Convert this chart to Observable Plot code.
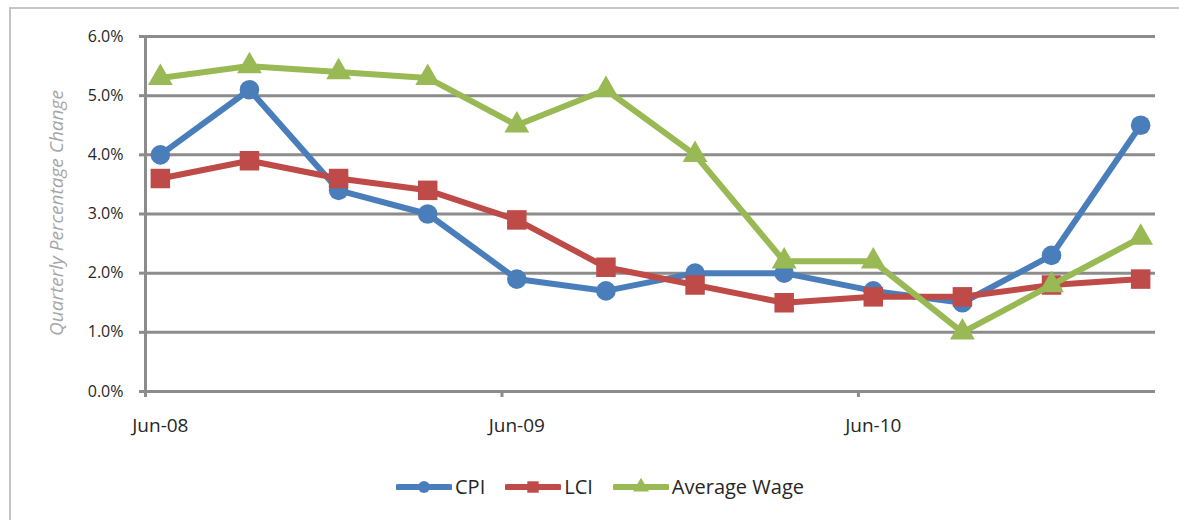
<!DOCTYPE html>
<html>
<head>
<meta charset="utf-8">
<script src="https://cdn.jsdelivr.net/npm/d3@7"></script>
<script src="https://cdn.jsdelivr.net/npm/@observablehq/plot@0.6"></script>
<style>
  html, body { margin: 0; padding: 0; background: #fff; overflow: hidden; }
  #wrap { position: relative; width: 1179px; height: 520px; font-family: "Open Sans", Lato, sans-serif; }
  #frame { position: absolute; left: 9px; top: 7px; width: 1200px; height: 600px;
           border-top: 2px solid #c4c4c4; border-left: 2px solid #c4c4c4; }
  #chart { position: absolute; left: 0; top: 0; }
  #chart svg text { font-size: 16px; }
  #chart svg g[aria-label="x-axis tick label"] text { font-size: 19px; }
  #ylabel { position: absolute; left: 56px; top: 213px; transform: translate(-50%, -50%) rotate(-90deg);
            white-space: nowrap; font-style: italic; color: #a6a6a6; font-size: 19px; }
  #legend { position: absolute; top: 473px; left: 0; width: 1200px; display: flex; justify-content: center;
            gap: 0; font-size: 20px; color: #262626; }
  .item { display: flex; align-items: center; margin: 0 10px; }
  .item svg { margin-right: 3px; }
</style>
</head>
<body>
<div id="wrap">
  <div id="frame"></div>
  <div id="chart"></div>
  <div id="ylabel">Quarterly Percentage Change</div>
  <div id="legend"></div>
</div>
<script>
// ---- data ----
const quarters = ["Jun-08","Sep-08","Dec-08","Mar-09","Jun-09","Sep-09","Dec-09","Mar-10","Jun-10","Sep-10","Dec-10","Mar-11"];
const cpi      = [4.0, 5.1, 3.4, 3.0, 1.9, 1.7, 2.0, 2.0, 1.7, 1.5, 2.3, 4.5];
const lci      = [3.6, 3.9, 3.6, 3.4, 2.9, 2.1, 1.8, 1.5, 1.6, 1.6, 1.8, 1.9];
const avgWage  = [5.3, 5.5, 5.4, 5.3, 4.5, 5.1, 4.0, 2.2, 2.2, 1.0, 1.8, 2.6];
const seriesNames = ["CPI", "LCI", "Average Wage"];
const seriesColors = ["#4a7ebb", "#be4b48", "#98b954"];
const seriesSymbols = ["circle", "square", "triangle"];
const xTickLabels = ["Jun-08", "Jun-09", "Jun-10"];
const yTicks = [0, 1, 2, 3, 4, 5, 6];

// ---- helpers ----
const parse = d3.utcParse("%b-%y");
const origin = parse(quarters[0]);
const monthIdx = s => d3.utcMonth.count(origin, parse(s));
const xEnd = monthIdx(quarters[quarters.length - 1]) + 1;

const valuesBySeries = [cpi, lci, avgWage];
const rows = [];
seriesNames.forEach((name, si) => {
  valuesBySeries[si].forEach((v, i) => rows.push({series: name, m: monthIdx(quarters[i]) + 0.5, v}));
});

const grid = "#8c8c8c";
const marks = [
  Plot.gridY(yTicks, {stroke: grid, strokeOpacity: 1, strokeWidth: 3}),
  Plot.ruleX([0], {stroke: grid, strokeWidth: 3}),
  Plot.axisY({ticks: yTicks, tickSize: 6, tickPadding: 16, stroke: grid, strokeWidth: 3,
              tickFormat: d => d.toFixed(1) + "%", fill: "#262626", label: null}),
  Plot.axisX({ticks: xTickLabels.map(monthIdx), tickSize: 6, stroke: grid, strokeWidth: 3,
              tickFormat: () => "", label: null, ariaLabel: "x-axis tick mark"}),
  Plot.axisX({ticks: xTickLabels.map(l => monthIdx(l) + 0.5), tickSize: 0, tickPadding: 27,
              tickFormat: d => xTickLabels.find(l => monthIdx(l) + 0.5 === d),
              fill: "#262626", label: null})
];
const dotR = {circle: 9.8, square: 11, triangle: 9.2};
seriesNames.forEach((name, si) => {
  const data = rows.filter(r => r.series === name);
  marks.push(Plot.line(data, {x: "m", y: "v", stroke: seriesColors[si], strokeWidth: 6, strokeLinejoin: "round"}));
  marks.push(Plot.dot(data, {x: "m", y: "v", fill: seriesColors[si], stroke: "none",
                              symbol: seriesSymbols[si], r: dotR[seriesSymbols[si]]}));
});

const chart = Plot.plot({
  width: 1179, height: 450,
  marginLeft: 145, marginRight: 24, marginTop: 36, marginBottom: 59,
  style: {background: "transparent", fontFamily: "'Open Sans', Lato, sans-serif", fontSize: "16px"},
  x: {type: "linear", domain: [0, xEnd], axis: null},
  y: {domain: [0, 6], axis: null},
  marks
});
document.getElementById("chart").append(chart);

// ---- legend ----
const legend = d3.select("#legend");
seriesNames.forEach((name, si) => {
  const item = legend.append("div").attr("class", "item");
  const svg = item.append("svg").attr("width", 56).attr("height", 20);
  svg.append("line").attr("x1", 2).attr("x2", 54).attr("y1", 10).attr("y2", 10)
     .attr("stroke", seriesColors[si]).attr("stroke-width", 6).attr("stroke-linecap", "round");
  const sym = d3.symbol().type({circle: d3.symbolCircle, square: d3.symbolSquare, triangle: d3.symbolTriangle}[seriesSymbols[si]])
                .size(seriesSymbols[si] === "circle" ? 110 : seriesSymbols[si] === "square" ? 130 : 110);
  svg.append("path").attr("d", sym()).attr("transform", "translate(28,10)").attr("fill", seriesColors[si]);
  item.append("span").text(name);
});
</script>
</body>
</html>
